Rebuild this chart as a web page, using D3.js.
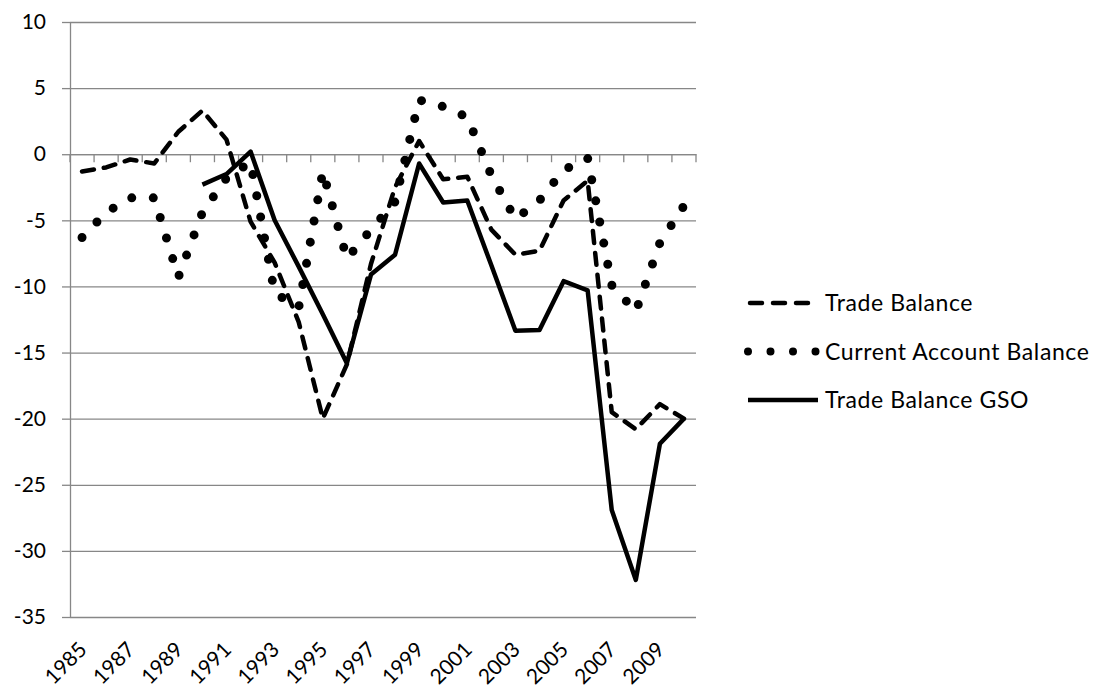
<!DOCTYPE html>
<html>
<head>
<meta charset="utf-8">
<script src="https://cdn.jsdelivr.net/npm/d3@7"></script>
<style>
  body { margin: 0; background: #fff; }
  svg text { font-family: Lato, "Open Sans", sans-serif; fill: #000; }
</style>
</head>
<body>
<svg id="chart"></svg>
<script>
// years on the category axis
const years = ["1985","1986","1987","1988","1989","1990","1991","1992","1993","1994","1995","1996","1997",
               "1998","1999","2000","2001","2002","2003","2004","2005","2006","2007","2008","2009","2010"];

// series
const tradeBalance = [-1.3, -1.0, -0.4, -0.7, 1.7, 3.3, 1.1, -5.1, -8.2, -12.7, -20.0, -15.9, -8.3,
                      -2.5, 1.0, -1.9, -1.7, -5.7, -7.6, -7.3, -3.5, -2.0, -19.5, -20.8, -18.9, -20.0];
const currentAccount = [-6.3, -4.4, -3.3, -3.3, -9.3, -4.4, -1.8, -0.6, -10.5, -11.6, -1.3, -7.9, -5.7,
                        -3.6, 4.1, 3.6, 2.8, -1.6, -4.9, -3.5, -1.2, -0.3, -9.9, -11.9, -6.7, -3.9];
const tradeBalanceGSO = [null, null, null, null, null, -2.3, -1.5, 0.2, -5.0, -8.5, -12.1, -15.8, -9.1,
                         -7.6, -0.7, -3.65, -3.5, -8.4, -13.35, -13.3, -9.6, -10.3, -26.9, -32.2, -21.9, -20.0];

const yTicks = [10, 5, 0, -5, -10, -15, -20, -25, -30, -35];
const xLabelYears = ["1985","1987","1989","1991","1993","1995","1997","1999","2001","2003","2005","2007","2009"];

const seriesList = [
    {name: "Trade Balance", values: tradeBalance, kind: "dash"},
    {name: "Current Account Balance", values: currentAccount, kind: "dot"},
    {name: "Trade Balance GSO", values: tradeBalanceGSO, kind: "solid"}
];

// stroke look for each kind of line
const styles = {
    dash:  {width: 4.5, cap: "round", dash: "12,10", legendDash: "12,11"},
    dot:   {width: 9,   cap: "round", dash: "0,21.5", legendDash: "0,22.5"},
    solid: {width: 4.5, cap: "butt",  dash: null,    legendDash: null}
};

const W = 1095, H = 687;
const margin = {top: 22, left: 70, right: 399, bottom: 70};
const plotW = W - margin.left - margin.right;
const plotH = H - margin.top - margin.bottom;
const gridColor = "#878787";

const svg = d3.select("#chart").attr("width", W).attr("height", H);
const chart = svg.append("g").attr("transform", `translate(${margin.left},${margin.top})`);

const x = d3.scaleBand().domain(years).range([0, plotW]);
const y = d3.scaleLinear().domain([-35, 10]).range([plotH, 0]);

// horizontal gridlines + y tick labels (plain hyphen minus like the original)
const yAxis = d3.axisLeft(y).tickValues(yTicks).tickSize(8).tickSizeOuter(0).tickPadding(16)
    .tickFormat(d => String(d));
const yg = chart.append("g").call(yAxis);
yg.select(".domain").attr("stroke", gridColor).attr("stroke-width", 1.3);
yg.selectAll(".tick line").attr("stroke", gridColor).attr("stroke-width", 1.3);
yg.selectAll(".tick text").attr("font-size", 21).attr("font-family", "Lato, sans-serif").attr("fill", "#000");
yg.selectAll(".tick").append("line")
    .attr("x1", 0).attr("x2", plotW)
    .attr("stroke", gridColor).attr("stroke-width", 1.3);

// category axis drawn on the zero line
const xAxis = d3.axisBottom(x).tickSize(0).tickFormat("");
const xg = chart.append("g").attr("transform", `translate(0,${y(0)})`).call(xAxis);
xg.select(".domain").attr("stroke", gridColor).attr("stroke-width", 1.3);
const boundaries = years.map(d => x(d)).concat([plotW]);
xg.selectAll(".boundary").data(boundaries).enter().append("line")
    .attr("x1", d => d).attr("x2", d => d)
    .attr("y1", 0).attr("y2", 8)
    .attr("stroke", gridColor).attr("stroke-width", 1.3);

// rotated year labels at the bottom
chart.selectAll(".xlabel").data(xLabelYears).enter().append("text")
    .attr("transform", d => `translate(${x(d) + x.bandwidth() / 2 + 6},${plotH + 34}) rotate(-45)`)
    .attr("text-anchor", "end")
    .attr("font-size", 21)
    .text(d => d);

// series lines
const line = d3.line()
    .defined(d => d.v !== null)
    .x(d => x(d.year) + x.bandwidth() / 2)
    .y(d => y(d.v));

seriesList.forEach(s => {
    const st = styles[s.kind];
    const pts = years.map((yr, i) => ({year: yr, v: s.values[i]}));
    chart.append("path")
        .datum(pts)
        .attr("d", line)
        .attr("fill", "none")
        .attr("stroke", "#000")
        .attr("stroke-width", st.width)
        .attr("stroke-linecap", st.cap)
        .attr("stroke-linejoin", "round")
        .attr("stroke-dasharray", st.dash);
});

// legend
const legend = svg.append("g").attr("transform", "translate(748,303)");
const rows = legend.selectAll("g").data(seriesList).enter().append("g")
    .attr("transform", (d, i) => `translate(0,${i * 48.5})`);
rows.append("line")
    .attr("x1", d => d.kind === "dash" ? 2 : 0)
    .attr("x2", d => d.kind === "dot" ? 68 : (d.kind === "dash" ? 62 : 70))
    .attr("stroke", "#000")
    .attr("stroke-width", d => d.kind === "dot" ? 8 : styles[d.kind].width)
    .attr("stroke-linecap", d => styles[d.kind].cap)
    .attr("stroke-dasharray", d => styles[d.kind].legendDash);
rows.append("text")
    .attr("x", 77)
    .attr("dy", "0.35em")
    .attr("font-size", 23)
    .attr("letter-spacing", 0.6)
    .text(d => d.name);
</script>
</body>
</html>
